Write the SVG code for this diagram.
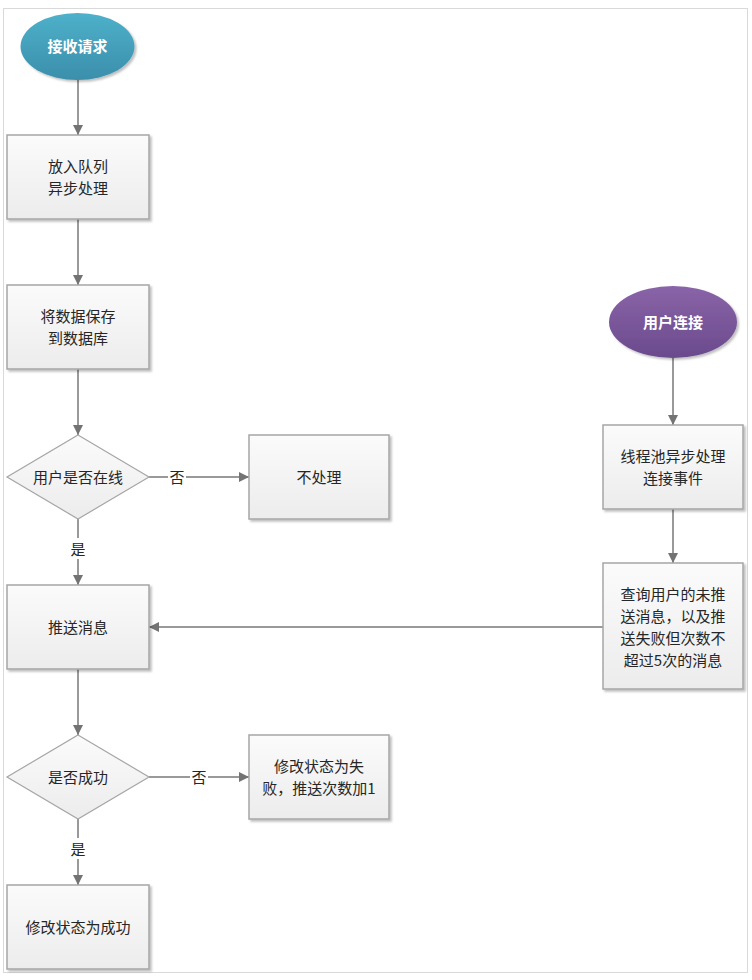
<svg xmlns="http://www.w3.org/2000/svg" width="752" height="980" viewBox="0 0 752 980">
<defs>
<linearGradient id="gBox" x1="0" y1="0" x2="0" y2="1"><stop offset="0" stop-color="#fbfbfb"/><stop offset="1" stop-color="#ececec"/></linearGradient>
<linearGradient id="gTeal" x1="0" y1="0" x2="0" y2="1"><stop offset="0" stop-color="#4eb0ca"/><stop offset="1" stop-color="#3b8fab"/></linearGradient>
<linearGradient id="gPurple" x1="0" y1="0" x2="0" y2="1"><stop offset="0" stop-color="#8a64a8"/><stop offset="1" stop-color="#6a4a8c"/></linearGradient>
<filter id="sh" x="-10%" y="-10%" width="125%" height="130%"><feDropShadow dx="2" dy="2" stdDeviation="1.2" flood-color="#000" flood-opacity="0.25"/></filter>
<marker id="arr" viewBox="0 0 10 10" refX="10" refY="5" markerWidth="10" markerHeight="10" markerUnits="userSpaceOnUse" orient="auto"><path d="M0,0 L10,5 L0,10 z" fill="#737373"/></marker>
</defs>
<style>
.box{fill:url(#gBox);stroke:#a6a6a6;stroke-width:1.5;filter:url(#sh)}
.dia{fill:url(#gBox);stroke:#a6a6a6;stroke-width:1.2}
.t{font-family:"Noto Sans CJK SC","Liberation Sans",sans-serif;font-size:15px;fill:#262626;text-anchor:middle;dominant-baseline:central}
.tw{font-family:"Noto Sans CJK SC","Liberation Sans",sans-serif;font-size:15px;font-weight:bold;fill:#ffffff;text-anchor:middle;dominant-baseline:central}
.ln{stroke:#999;stroke-width:2;fill:none;marker-end:url(#arr)}
.lb{fill:#ffffff}
</style>
<rect x="3.5" y="8.5" width="744" height="964" fill="#fff" stroke="#d9d9d9" stroke-width="1"/>
<g id="connectors">
<line class="ln" x1="78" y1="80" x2="78" y2="135"/>
<line class="ln" x1="78" y1="219" x2="78" y2="285"/>
<line class="ln" x1="78" y1="369" x2="78" y2="435"/>
<line class="ln" x1="149" y1="477" x2="249" y2="477"/>
<line class="ln" x1="78" y1="519" x2="78" y2="585"/>
<line class="ln" x1="78" y1="669" x2="78" y2="735"/>
<line class="ln" x1="149" y1="777" x2="249" y2="777"/>
<line class="ln" x1="78" y1="819" x2="78" y2="885"/>
<line class="ln" x1="673" y1="358" x2="673" y2="425"/>
<line class="ln" x1="673" y1="509" x2="673" y2="563"/>
<line class="ln" x1="603" y1="627" x2="149" y2="627"/>
<rect class="lb" x="168" y="466" width="18" height="21"/>
<text class="t" x="177" y="476">否</text>
<rect class="lb" x="69" y="538" width="18" height="21"/>
<text class="t" x="78" y="548">是</text>
<rect class="lb" x="190" y="766" width="18" height="21"/>
<text class="t" x="199" y="776">否</text>
<rect class="lb" x="69" y="838" width="18" height="21"/>
<text class="t" x="78" y="848">是</text>
</g>
<g id="n-receive">
<ellipse cx="77.5" cy="46.5" rx="57" ry="33.5" fill="url(#gTeal)" filter="url(#sh)"/>
<text class="tw" x="77.5" y="45.5">接收请求</text>
</g>
<g id="n-queue">
<rect class="box" x="7" y="135" width="142" height="84"/>
<text class="t" x="78" y="165">放入队列</text>
<text class="t" x="78" y="187">异步处理</text>
</g>
<g id="n-save">
<rect class="box" x="7" y="285" width="142" height="84"/>
<text class="t" x="78" y="315">将数据保存</text>
<text class="t" x="78" y="337">到数据库</text>
</g>
<g id="n-online">
<polygon class="dia" points="78,435 149,477 78,519 7,477"/>
<text class="t" x="78" y="476">用户是否在线</text>
</g>
<g id="n-noop">
<rect class="box" x="249" y="435" width="140" height="84"/>
<text class="t" x="319" y="476">不处理</text>
</g>
<g id="n-push">
<rect class="box" x="7" y="585" width="142" height="84"/>
<text class="t" x="78" y="626">推送消息</text>
</g>
<g id="n-success">
<polygon class="dia" points="78,735 149,777 78,819 7,777"/>
<text class="t" x="78" y="776">是否成功</text>
</g>
<g id="n-fail">
<rect class="box" x="249" y="735" width="140" height="84"/>
<text class="t" x="319" y="765">修改状态为失</text>
<text class="t" x="319" y="787">败，推送次数加1</text>
</g>
<g id="n-done">
<rect class="box" x="7" y="885" width="142" height="84"/>
<text class="t" x="78" y="926">修改状态为成功</text>
</g>
<g id="n-connect">
<ellipse cx="673" cy="322" rx="64" ry="36" fill="url(#gPurple)" filter="url(#sh)"/>
<text class="tw" x="673" y="321">用户连接</text>
</g>
<g id="n-pool">
<rect class="box" x="603" y="425" width="140" height="84"/>
<text class="t" x="673" y="455">线程池异步处理</text>
<text class="t" x="673" y="477">连接事件</text>
</g>
<g id="n-query">
<rect class="box" x="603" y="563" width="140" height="126"/>
<text class="t" x="673" y="593">查询用户的未推</text>
<text class="t" x="673" y="615">送消息，以及推</text>
<text class="t" x="673" y="637">送失败但次数不</text>
<text class="t" x="673" y="659">超过5次的消息</text>
</g>
</svg>
